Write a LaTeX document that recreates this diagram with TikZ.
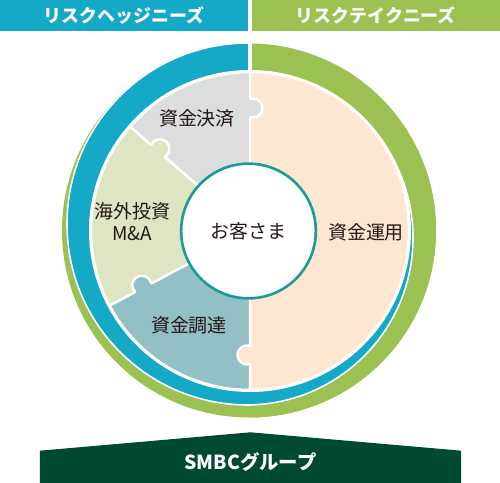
\documentclass[tikz,border=0pt]{standalone}
\usepackage{fontspec}
\setmainfont{Noto Sans CJK JP}
\usetikzlibrary{positioning}

\definecolor{hedgeblue}{HTML}{14A9C6}
\definecolor{takegreen}{HTML}{9BC153}
\definecolor{pgray}{HTML}{DCDDDD}
\definecolor{plgreen}{HTML}{DDE5C2}
\definecolor{pteal}{HTML}{93C0C4}
\definecolor{ppeach}{HTML}{FDE7D0}
\definecolor{coreteal}{HTML}{1A9B99}
\definecolor{smbcgreen}{HTML}{004A32}
\definecolor{inkc}{HTML}{231815}

% puzzle tab: #1 point on the seam, #2 direction into the neighbour, #3 colour
\newcommand{\knob}[3]{%
  \begin{scope}[shift={#1}, rotate=#2]
    \fill[#3] (3,0) circle (9.5);
    \draw[divider] (0,9.01) arc[start angle=108.4, end angle=-108.4, radius=9.5];
  \end{scope}}

\begin{document}
\begin{tikzpicture}[
  x=0.02cm, y=0.02cm,
  divider/.style={draw=white, line width=1.4pt},
  headbar/.style={inner sep=0pt, minimum width=4.966cm, minimum height=0.62cm,
                  text=white, font=\fontsize{10.2}{12}\selectfont\bfseries},
  lbl/.style={text=inkc, align=center, inner sep=0pt,
              font=\fontsize{10.8}{12.5}\selectfont},
]
\useasboundingbox (-250,-252) rectangle (250,231);

% headers
\node[headbar, fill=hedgeblue] (hedge) at (-125.85,215.5) {リスクヘッジニーズ};
\node[headbar, fill=takegreen] (take)  at (125.85,215.5)  {リスクテイクニーズ};

% outer rings
\fill[takegreen] (-1,0.5) circle (187);
\filldraw[fill=hedgeblue, draw=white, line width=0.9pt] (-2,7) circle (181);
\begin{scope}
  \clip (0,-260) rectangle (260,240);
  \fill[takegreen, even odd rule] (-1,0.5) circle (187) (-4,-7) circle (167);
  \draw[white, line width=0.9pt] (-4,-7) circle (167);
\end{scope}
\draw[white, line width=1.9pt] (0,140) -- (0,196);
\fill[white] (0,0) circle (161);

% pie pieces
\foreach \a/\b/\c in {90/-90/ppeach, 90/139/pgray, 139/208/plgreen, 208/270/pteal}
  \filldraw[fill=\c, divider] (0,0) -- (\a:159) arc[start angle=\a, end angle=\b, radius=159] -- cycle;

\knob{(0,123)}{0}{pgray}
\knob{(0,-124)}{180}{ppeach}
\knob{(-92.1,80.0)}{49}{plgreen}
\knob{(-106.8,-56.8)}{118}{pteal}

% centre
\node[circle, draw=coreteal, line width=1.5pt, fill=white, minimum size=2.694cm,
      inner sep=0pt, text=inkc, font=\fontsize{10.8}{12.5}\selectfont] (client) at (-1.5,0) {お客さま};

\node[lbl] (settle) at (-53,113)   {資金決済};
\node[lbl] (invest) at (-117.5,9.5) {海外投資\\M\&A};
\node[lbl] (manage) at (116,-1)     {資金運用};
\node[lbl] (fund)   at (-61,-94)    {資金調達};

% bottom banner
\fill[smbcgreen] (-210.2,-252) -- (-210.2,-219.7) -- (0.5,-201.3) -- (211.2,-219.7) -- (211.2,-252) -- cycle;
\node[text=white, inner sep=0pt, font=\fontsize{11}{13}\selectfont\bfseries] (smbc) at (0.5,-230.7) {SMBCグループ};
\end{tikzpicture}
\end{document}
